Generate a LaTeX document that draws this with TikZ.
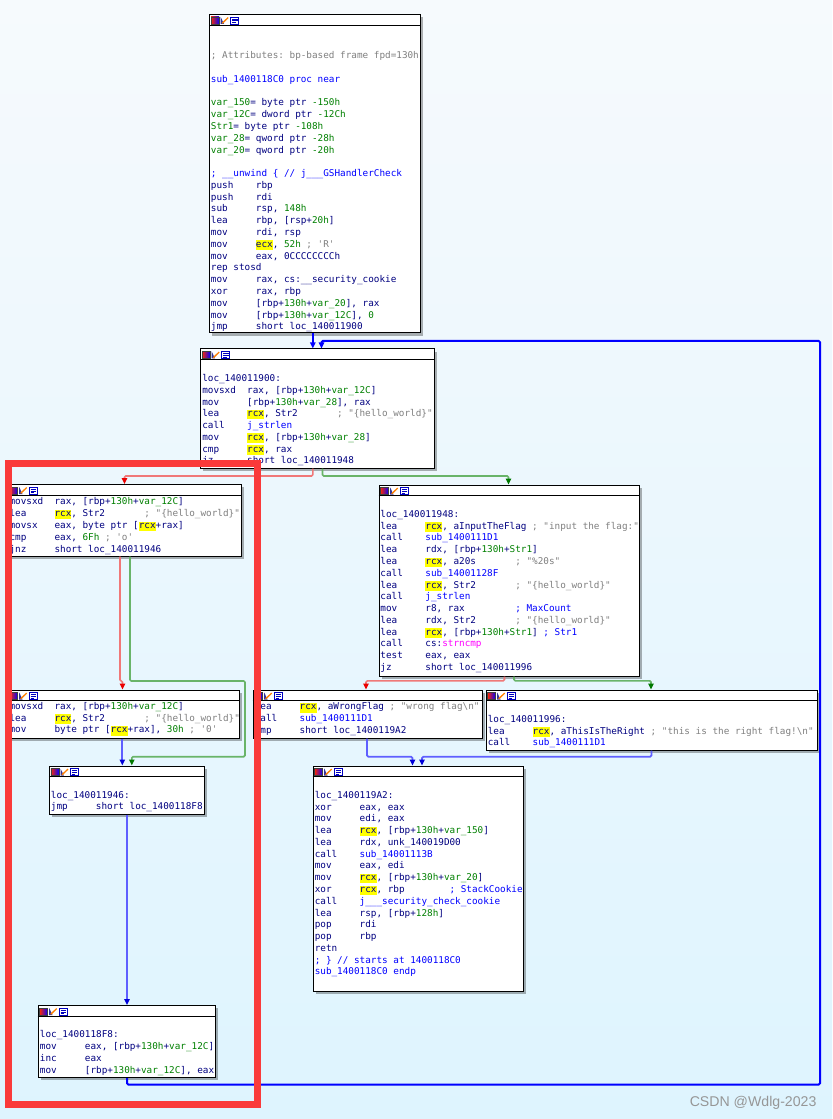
\documentclass[tikz,border=0pt]{standalone}
\usepackage{fontspec}
\setmonofont{DejaVu Sans Mono}
\newfontfamily\wmfont{Liberation Sans}
\usetikzlibrary{arrows.meta,fit,shadows}
\definecolor{idanavy}{RGB}{0,0,128}
\definecolor{idablue}{RGB}{0,0,255}
\definecolor{idagreen}{RGB}{0,128,0}
\definecolor{idagray}{RGB}{128,128,128}
\definecolor{idamag}{RGB}{255,0,255}
\definecolor{idayel}{RGB}{255,255,0}
\definecolor{bgtop}{RGB}{246,250,253}
\definecolor{bgbot}{RGB}{222,244,254}
\definecolor{eblueA}{RGB}{0,0,255}
\definecolor{eblueB}{RGB}{95,95,255}
\definecolor{eredL}{RGB}{240,120,120}
\definecolor{eredA}{RGB}{235,0,0}
\definecolor{egreenL}{RGB}{105,180,105}
\definecolor{egreenA}{RGB}{0,120,0}
\definecolor{frame}{RGB}{250,58,58}
\definecolor{wmgray}{RGB}{150,150,150}
\newlength\chw \setlength\chw{4.2144pt}
\newcommand\gr[1]{\textcolor{idagreen}{#1}}
\newcommand\bl[1]{\textcolor{idablue}{#1}}
\newcommand\cm[1]{\textcolor{idagray}{#1}}
\newcommand\mg[1]{\textcolor{idamag}{#1}}
\newcommand\hlr[1]{{\setlength\fboxsep{0pt}\colorbox{idayel}{\rule[-2pt]{0pt}{7.2pt}#1}}}
\newcommand\pad[1]{\hspace*{#1\chw}}
\newcommand\asm[2]{\hbox{\makebox[8\chw][l]{#1}#2}}
\newcommand\txt[1]{\hbox{#1}}
\newcommand\blank{\hbox{}}
\newcommand\codebox[1]{\vtop{\baselineskip=8.835pt\lineskiplimit=-50pt\lineskip=0pt\relax#1}}
\newcommand\icons[1]{%
  \begin{scope}[shift={(#1.north west)}]
    \shade[left color=red!85!yellow, middle color=green!70!black, right color=blue] (2,3) rectangle (10,10);
    \draw[black!75,line width=.4pt] (2,3) rectangle (10,10);
    \fill[white] (11.7,3) rectangle (19.7,10);
    \fill[idanavy!80] (11.7,3) -- (11.7,10) -- (15,10) -- cycle;
    \draw[orange,line width=1pt] (13.2,9.3) -- (19.2,3.6);
    \draw[blue!75!black,line width=.45pt] (21.7,3) rectangle (29.7,10);
    \draw[blue!75!black,line width=.45pt] (23,5)--(28.5,5) (23,6.8)--(28.5,6.8) (23,8.6)--(26.5,8.6);
  \end{scope}%
  \draw[line width=.6pt] ([yshift=-8.25pt]#1.north west) -- ([yshift=-8.25pt]#1.north east);}
\tikzset{
  block/.style={draw=black, fill=white, line width=.75pt, inner sep=0pt,
    drop shadow={shadow xshift=2.2pt, shadow yshift=-2.2pt, fill=black, opacity=.3}},
  code/.style={anchor=base west, inner sep=0pt, text=idanavy,
    font=\ttfamily\fontsize{7pt}{8.835pt}\selectfont\frenchspacing},
  ebA/.style={draw=eblueA, line width=1.5pt, rounded corners=1pt,
    -{Triangle[length=4.5pt,width=4pt,color=eblueA]}},
  ebB/.style={draw=eblueB, line width=1.3pt, rounded corners=1pt,
    -{Triangle[length=4.5pt,width=4pt,color=idablue!85!black]}},
  ered/.style={draw=eredL, line width=1.2pt, rounded corners=1pt,
    -{Triangle[length=4.5pt,width=4pt,color=eredA]}},
  egreen/.style={draw=egreenL, line width=1.2pt, rounded corners=1pt,
    -{Triangle[length=4.5pt,width=4pt,color=egreenA]}},
}
\begin{document}
\begin{tikzpicture}[x=0.75pt,y=-0.75pt]
\useasboundingbox (0,0) rectangle (832,1119);
\shade[top color=bgtop, bottom color=bgbot] (0,0) rectangle (832,1119);

% ---------- blocks ----------
\node[block, fit={(209.5,14.5) (420,333)}] (b1) {};
\node[block, fit={(200.5,349) (434,468)}] (b2) {};
\node[block, fit={(8,484.5) (241.5,556)}] (b3) {};
\node[block, fit={(8,690) (239.5,738)}] (b4) {};
\node[block, fit={(379,485) (639.5,676)}] (b5) {};
\node[block, fit={(253,690) (482,738)}] (b6) {};
\node[block, fit={(486,690) (817,750)}] (b7) {};
\node[block, fit={(313,766) (523,991)}] (b8) {};
\node[block, fit={(49.3,766) (204.3,814)}] (b9) {};
\node[block, fit={(38,1005.5) (215,1077.5)}] (b10) {};
\icons{b1}\icons{b2}\icons{b3}\icons{b4}\icons{b5}
\icons{b6}\icons{b7}\icons{b8}\icons{b9}\icons{b10}

% ---------- texts ----------
\node[code] (t1) at (210.7,35.3) {\codebox{%
\blank
\blank
\txt{\cm{; Attributes: bp-based frame fpd=130h}}
\blank
\txt{\bl{sub\_1400118C0 proc near}}
\blank
\txt{\gr{var\_150}= byte ptr \gr{-150h}}
\txt{\gr{var\_12C}= dword ptr \gr{-12Ch}}
\txt{\gr{Str1}= byte ptr \gr{-108h}}
\txt{\gr{var\_28}= qword ptr \gr{-28h}}
\txt{\gr{var\_20}= qword ptr \gr{-20h}}
\blank
\txt{\bl{; \_\_unwind \{ // j\_\_\_GSHandlerCheck}}
\asm{push}{rbp}
\asm{push}{rdi}
\asm{sub}{rsp, \gr{148h}}
\asm{lea}{rbp, [rsp+\gr{20h}]}
\asm{mov}{rdi, rsp}
\asm{mov}{\hlr{ecx}, \gr{52h} \cm{; \textquotesingle R\textquotesingle}}
\asm{mov}{eax, 0CCCCCCCCh}
\txt{rep stosd}
\asm{mov}{rax, cs:\_\_security\_cookie}
\asm{xor}{rax, rbp}
\asm{mov}{[rbp+\gr{130h}+\gr{var\_20}], rax}
\asm{mov}{[rbp+\gr{130h}+\gr{var\_12C}], \gr{0}}
\asm{jmp}{short loc\_140011900}}};

\node[code] (t2) at (202,369.7) {\codebox{%
\blank
\txt{loc\_140011900:}
\asm{movsxd}{rax, [rbp+\gr{130h}+\gr{var\_12C}]}
\asm{mov}{[rbp+\gr{130h}+\gr{var\_28}], rax}
\asm{lea}{\hlr{rcx}, Str2\pad{7}\cm{; "\{hello\_world\}"}}
\asm{call}{\bl{j\_strlen}}
\asm{mov}{\hlr{rcx}, [rbp+\gr{130h}+\gr{var\_28}]}
\asm{cmp}{\hlr{rcx}, rax}
\asm{jz}{short loc\_140011948}}};

\node[code] (t3) at (9.3,504.9) {\codebox{%
\asm{movsxd}{rax, [rbp+\gr{130h}+\gr{var\_12C}]}
\asm{lea}{\hlr{rcx}, Str2\pad{7}\cm{; "\{hello\_world\}"}}
\asm{movsx}{eax, byte ptr [\hlr{rcx}+rax]}
\asm{cmp}{eax, \gr{6Fh} \cm{; \textquotesingle o\textquotesingle}}
\asm{jnz}{short loc\_140011946}}};

\node[code] (t4) at (9.3,709.4) {\codebox{%
\asm{movsxd}{rax, [rbp+\gr{130h}+\gr{var\_12C}]}
\asm{lea}{\hlr{rcx}, Str2\pad{7}\cm{; "\{hello\_world\}"}}
\asm{mov}{byte ptr [\hlr{rcx}+rax], \gr{30h} \cm{; \textquotesingle 0\textquotesingle}}}};

\node[code] (t5) at (380.2,505.6) {\codebox{%
\blank
\txt{loc\_140011948:}
\asm{lea}{\hlr{rcx}, aInputTheFlag \cm{; "input the flag:"}}
\asm{call}{\bl{sub\_1400111D1}}
\asm{lea}{rdx, [rbp+\gr{130h}+\gr{Str1}]}
\asm{lea}{\hlr{rcx}, a20s\pad{7}\cm{; "\%20s"}}
\asm{call}{\bl{sub\_14001128F}}
\asm{lea}{\hlr{rcx}, Str2\pad{7}\cm{; "\{hello\_world\}"}}
\asm{call}{\bl{j\_strlen}}
\asm{mov}{r8, rax\pad{9}\bl{; MaxCount}}
\asm{lea}{rdx, Str2\pad{7}\cm{; "\{hello\_world\}"}}
\asm{lea}{\hlr{rcx}, [rbp+\gr{130h}+\gr{Str1}] \bl{; Str1}}
\asm{call}{cs:\mg{strncmp}}
\asm{test}{eax, eax}
\asm{jz}{short loc\_140011996}}};

\node[code] (t6) at (254.5,709.9) {\codebox{%
\asm{lea}{\hlr{rcx}, aWrongFlag \cm{; "wrong flag\textbackslash n"}}
\asm{call}{\bl{sub\_1400111D1}}
\asm{jmp}{short loc\_1400119A2}}};

\node[code] (t7) at (487.5,710.6) {\codebox{%
\blank
\txt{loc\_140011996:}
\asm{lea}{\hlr{rcx}, aThisIsTheRight \cm{; "this is the right flag!\textbackslash n"}}
\asm{call}{\bl{sub\_1400111D1}}}};

\node[code] (t8) at (314.5,786.5) {\codebox{%
\blank
\txt{loc\_1400119A2:}
\asm{xor}{eax, eax}
\asm{mov}{edi, eax}
\asm{lea}{\hlr{rcx}, [rbp+\gr{130h}+\gr{var\_150}]}
\asm{lea}{rdx, unk\_140019D00}
\asm{call}{\bl{sub\_14001113B}}
\asm{mov}{eax, edi}
\asm{mov}{\hlr{rcx}, [rbp+\gr{130h}+\gr{var\_20}]}
\asm{xor}{\hlr{rcx}, rbp\pad{8}\bl{; StackCookie}}
\asm{call}{\bl{j\_\_\_security\_check\_cookie}}
\asm{lea}{rsp, [rbp+\gr{128h}]}
\asm{pop}{rdi}
\asm{pop}{rbp}
\txt{retn}
\txt{\bl{; \} // starts at 1400118C0}}
\txt{\bl{sub\_1400118C0 endp}}}};

\node[code] (t9) at (50.7,786.4) {\codebox{%
\blank
\txt{loc\_140011946:}
\asm{jmp}{short loc\_1400118F8}}};

\node[code] (t10) at (39.7,1025.9) {\codebox{%
\blank
\txt{loc\_1400118F8:}
\asm{mov}{eax, [rbp+\gr{130h}+\gr{var\_12C}]}
\asm{inc}{eax}
\asm{mov}{[rbp+\gr{130h}+\gr{var\_12C}], eax}}};

% ---------- edges ----------
\draw[ebA] (312.8,0 |- b1.south) -- (312.8,0 |- b2.north);
\draw[ebA] (127,0 |- b10.south) -- (127,1084.5) -- (820,1084.5) -- (820,341) -- (321.5,341) -- (321.5,0 |- b2.north);
\draw[ered] (312.8,0 |- b2.south) -- (312.8,476) -- (124.5,476) -- (124.5,0 |- b3.north);
\draw[egreen] (322.5,0 |- b2.south) -- (322.5,476) -- (508.5,476) -- (508.5,0 |- b5.north);
\draw[ered] (120,0 |- b3.south) -- (120,681) -- (122.5,681) -- (122.5,0 |- b4.north);
\draw[egreen] (130,0 |- b3.south) -- (130,681) -- (245,681) -- (245,756.7) -- (131.8,756.7) -- (131.8,0 |- b9.north);
\draw[ebB] (122.3,0 |- b4.south) -- (122.3,0 |- b9.north);
\draw[ebB] (127,0 |- b9.south) -- (127,0 |- b10.north);
\draw[ered] (504.5,0 |- b5.south) -- (504.5,680.8) -- (366,680.8) -- (366,0 |- b6.north);
\draw[egreen] (514,0 |- b5.south) -- (514,680.8) -- (651,680.8) -- (651,0 |- b7.north);
\draw[ebB] (367,0 |- b6.south) -- (367,756.7) -- (412.5,756.7) -- (412.5,0 |- b8.north);
\draw[ebB] (651.5,0 |- b7.south) -- (651.5,756.7) -- (422,756.7) -- (422,0 |- b8.north);

% ---------- annotation frame ----------
\draw[frame, line width=5.25pt] (8.6,463.5) rectangle (257,1104.2);

% ---------- watermark ----------
\node[anchor=base east, inner sep=0pt, text=wmgray, font=\wmfont\fontsize{10.6pt}{12pt}\selectfont] (wm) at (816.7,1106.7) {CSDN @Wdlg-2023};
\end{tikzpicture}
\end{document}
